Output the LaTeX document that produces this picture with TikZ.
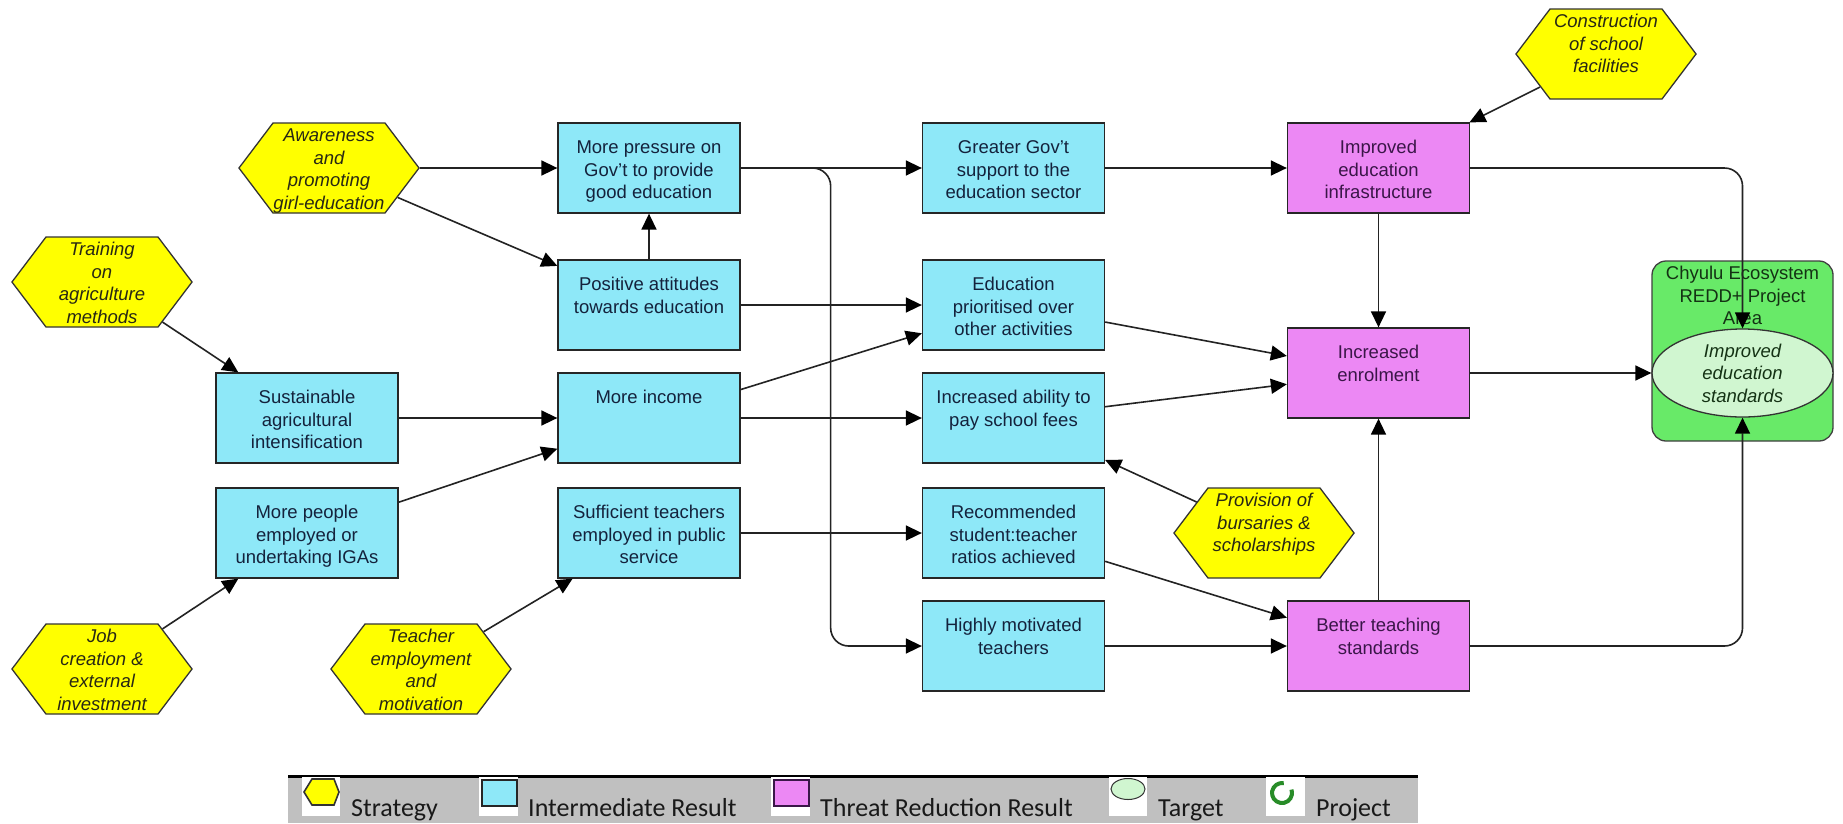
\documentclass[tikz,border=0pt]{standalone}
\usepackage{fontspec}
\setmainfont{Liberation Sans}
\newfontfamily\legendfont{Carlito}
\usetikzlibrary{arrows.meta,shapes.symbols,shapes.geometric}

\definecolor{irfill}{RGB}{142,232,248}
\definecolor{trfill}{RGB}{236,136,244}
\definecolor{stfill}{RGB}{255,255,0}
\definecolor{prfill}{RGB}{104,234,104}
\definecolor{tgfill}{RGB}{208,246,208}
\definecolor{legbg}{RGB}{192,192,192}
\definecolor{irtext}{RGB}{20,34,60}
\definecolor{trtext}{RGB}{58,22,72}
\definecolor{sttext}{RGB}{40,40,20}
\definecolor{prtext}{RGB}{20,50,20}
\definecolor{edgecol}{RGB}{35,35,35}
\definecolor{ringcol}{RGB}{40,140,40}

% top-aligned text blocks for the result boxes and the strategy hexagons
\newcommand\boxtxt[1]{\parbox[c][90pt][t]{182pt}{\centering\rule{0pt}{30.7pt}#1}}
\newcommand\hextxt[1]{\parbox[c][90pt][t]{112pt}{\centering\itshape\rule{0pt}{18.7pt}#1}}

\tikzset{
  basefont/.style={font=\fontsize{18.5}{22.6}\selectfont},
  ir/.style={basefont, rectangle, draw=black!85, line width=1.3pt, fill=irfill, text=irtext, inner sep=0pt},
  tr/.style={ir, fill=trfill, text=trtext},
  strat/.style={basefont, signal, signal to=east and west, signal pointer angle=105.8,
    draw=black!80, line width=1.3pt, fill=stfill, text=sttext, inner sep=0pt, minimum height=90pt},
  conn/.style={draw=edgecol, line width=1.6pt, -{Triangle[length=16pt,width=15pt,color=black]}},
  elbow/.style={conn, rounded corners=18pt},
  legtxt/.style={font=\legendfont\fontsize{26}{30}\selectfont, text=black!90, anchor=base west, inner sep=0pt},
}

\begin{document}
\begin{tikzpicture}[x=1pt,y=-1pt]
\useasboundingbox (0,0) rectangle (1843,823);
\fill[white] (0,0) rectangle (1843,823);

% project area with its target
\node[rounded corners=14pt, draw=black!75, line width=1.3pt, fill=prfill, text=prtext,
  basefont, inner sep=0pt] (proj) at (1742.5,351)
  {\parbox[c][180pt][t]{181pt}{\centering\rule{0pt}{18.7pt}Chyulu Ecosystem\\REDD+ Project\\Area}};
\node[ellipse, draw=black!80, line width=1.3pt, fill=tgfill, text=prtext, inner sep=0pt,
  minimum width=181pt, minimum height=88pt, align=center,
  font={\fontsize{18.5}{22.6}\selectfont\itshape}] (tgt) at (1742.5,373)
  {Improved\\education\\standards};

% strategies
\node[strat] (aw) at (329,168) {\hextxt{Awareness\\and\\promoting\\girl-education}};
\node[strat] (tr) at (102,282) {\hextxt{Training\\on\\agriculture\\methods}};
\node[strat] (jc) at (102,669) {\hextxt{Job\\creation \&\\external\\investment}};
\node[strat] (te) at (421,669) {\hextxt{Teacher\\employment\\and\\motivation}};
\node[strat] (co) at (1606,54) {\hextxt{Construction\\of school\\facilities}};
\node[strat] (pv) at (1264,533) {\hextxt{Provision of\\bursaries \&\\scholarships}};

% intermediate results
\node[ir] (su)  at (307,418)    {\boxtxt{Sustainable\\agricultural\\intensification}};
\node[ir] (mpe) at (307,533)    {\boxtxt{More people\\employed or\\undertaking IGAs}};
\node[ir] (mp)  at (649,168)    {\boxtxt{More pressure on\\Gov't to provide\\good education}};
\node[ir] (pa)  at (649,305)    {\boxtxt{Positive attitudes\\towards education}};
\node[ir] (mi)  at (649,418)    {\boxtxt{More income}};
\node[ir] (st)  at (649,533)    {\boxtxt{Sufficient teachers\\employed in public\\service}};
\node[ir] (gg)  at (1013.5,168) {\boxtxt{Greater Gov't\\support to the\\education sector}};
\node[ir] (ep)  at (1013.5,305) {\boxtxt{Education\\prioritised over\\other activities}};
\node[ir] (ia)  at (1013.5,418) {\boxtxt{Increased ability to\\pay school fees}};
\node[ir] (rc)  at (1013.5,533) {\boxtxt{Recommended\\student:teacher\\ratios achieved}};
\node[ir] (hm)  at (1013.5,646) {\boxtxt{Highly motivated\\teachers}};

% threat reduction results
\node[tr] (ii) at (1378.5,168) {\boxtxt{Improved\\education\\infrastructure}};
\node[tr] (ie) at (1378.5,373) {\boxtxt{Increased\\enrolment}};
\node[tr] (bt) at (1378.5,646) {\boxtxt{Better teaching\\standards}};

% links
\draw[conn] (aw) -- (mp);
\draw[conn] (aw) -- (pa);
\draw[conn] (pa) -- (mp);
\draw[conn] (tr) -- (su);
\draw[conn] (su) -- (mi);
\draw[conn] (mpe) -- (mi);
\draw[conn] (jc) -- (mpe);
\draw[conn] (te) -- (st);
\draw[conn] (mp) -- (gg);
\draw[elbow] (mp.east) -- ++(90,0) |- (hm.west);
\draw[conn] (pa) -- (ep);
\draw[conn] (mi) -- (ep);
\draw[conn] (mi) -- (ia);
\draw[conn] (st) -- (rc);
\draw[conn] (gg) -- (ii);
\draw[conn] (ep) -- (ie);
\draw[conn] (ia) -- (ie);
\draw[conn] (ii) -- (ie);
\draw[elbow] (ii.east) -| (tgt.north);
\draw[conn] (ie) -- (tgt);
\draw[conn] (bt) -- (ie);
\draw[elbow] (bt.east) -| (tgt.south);
\draw[conn] (rc) -- (bt);
\draw[conn] (hm) -- (bt);
\draw[conn] (pv) -- (ia);
\draw[conn] (co) -- (ii);

% legend
\fill[legbg] (288,777) rectangle (1418,823);
\draw[line width=3pt] (288,776.5) -- (1418,776.5);
\fill[white] (302,777) rectangle (340,816);
\draw[fill=stfill, draw=black!80, line width=1.6pt]
  (304,792) -- (312,779) -- (334,779) -- (339,792) -- (334,805) -- (312,805) -- cycle;
\fill[white] (479,777) rectangle (518,816);
\draw[fill=irfill, draw=black!85, line width=1.2pt] (482,780) rectangle (517,806);
\fill[white] (771,777) rectangle (810,816);
\draw[fill=trfill, draw=trtext, line width=1.2pt] (774,780) rectangle (809,806);
\fill[white] (1109,777) rectangle (1147,816);
\draw[fill=tgfill, draw=black!80, line width=1pt] (1128,789) ellipse [x radius=17, y radius=10.5];
\fill[white] (1266,777) rectangle (1305,816);
\draw[ringcol, line width=4pt] ([shift={(1282,793)}]-80:10) arc[start angle=-80, end angle=-380, radius=10];
\node[legtxt] (lg1) at (351,816)  {Strategy};
\node[legtxt] (lg2) at (528,816)  {Intermediate Result};
\node[legtxt] (lg3) at (820,816)  {Threat Reduction Result};
\node[legtxt] (lg4) at (1158,816) {Target};
\node[legtxt] (lg5) at (1316,816) {Project};
\end{tikzpicture}
\end{document}
